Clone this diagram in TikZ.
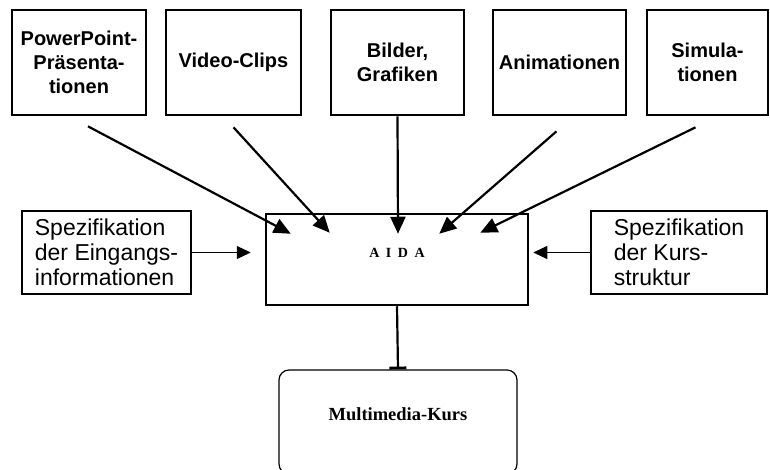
\documentclass[tikz,border=0pt]{standalone}
\usepackage{fontspec}
\setmainfont{Liberation Serif}
\setsansfont{Liberation Sans}
\usetikzlibrary{arrows.meta,calc}
\begin{document}
\begin{tikzpicture}[x=1pt,y=-1pt,
  source/.style={draw,line width=2.7pt,minimum width=#1,minimum height=105pt,
    inner sep=2pt,align=center,font=\sffamily\bfseries\fontsize{20}{24}\selectfont},
  spec/.style={draw,line width=2.5pt,minimum width=#1,minimum height=83pt,
    inner sep=2pt,align=left,font=\sffamily\fontsize{23}{25}\selectfont},
  core/.style={draw,line width=2.5pt,minimum width=262pt,minimum height=91pt,
    text depth=13pt,font=\rmfamily\bfseries\fontsize{14}{16}\selectfont},
  result/.style={draw,line width=1.2pt,rounded corners=10pt,minimum width=238pt,
    minimum height=104pt,text depth=16pt,font=\rmfamily\bfseries\fontsize{18.5}{21}\selectfont},
  feed/.style={line width=2.2pt,-{Triangle[length=17pt,width=15pt]}},
  sidefeed/.style={line width=1.1pt,-{Triangle[length=14pt,width=13pt]}},
  outlink/.style={line width=2.2pt,-{Bar[width=17pt,line width=2.8pt]}}
]
\useasboundingbox (0,0) rectangle (770,470);

% media sources
\node[source=134pt] (b1) at (79,62.5) {PowerPoint-\\Präsenta-\\tionen};
\node[source=135pt] (b2) at (233.5,62.5) {Video-Clips};
\node[source=133pt] (b3) at (397.5,62.5) {Bilder,\\Grafiken};
\node[source=133pt] (b4) at (559.5,62.5) {Animationen};
\node[source=121pt] (b5) at (707.5,62.5) {Simula-\\tionen};

% authoring system
\node[core] (aida) at (397,259.5) {A\kern6.5pt I\kern6.5pt D\kern6.5pt A};

% specifications
\node[spec=169pt] (sl) at (106.5,252.5) {Spezifikation\\der Eingangs-\\informationen};
\node[spec=176pt] (sr) at (679,252.5) {Spezifikation\\der Kurs-\\struktur};

% resulting course
\node[result] (mm) at (398,422) {Multimedia-Kurs};

% inputs into AIDA
\draw[feed] ($(b1.south)+(9,10)$) -- ($(aida.north west)+(26,21)$);
\draw[feed] ($(b2.south)+(0,11)$) -- ($(aida.north west)+(65,20)$);
\draw[feed] (b3.south) -- ($(aida.north)+(1,21)$);
\draw[feed] ($(b4.south)+(-3,15)$) -- ($(aida.north east)+(-90,21)$);
\draw[feed] ($(b5.south)+(-12,11)$) -- ($(aida.north east)+(-49,20)$);
\draw[sidefeed] (sl.east) -- ([xshift=-14pt]sl.east -| aida.west);
\draw[sidefeed] (sr.west) -- ([xshift=4pt]sr.west -| aida.east);

% output
\draw[outlink] (aida.south) -- (mm.north);
\end{tikzpicture}
\end{document}
